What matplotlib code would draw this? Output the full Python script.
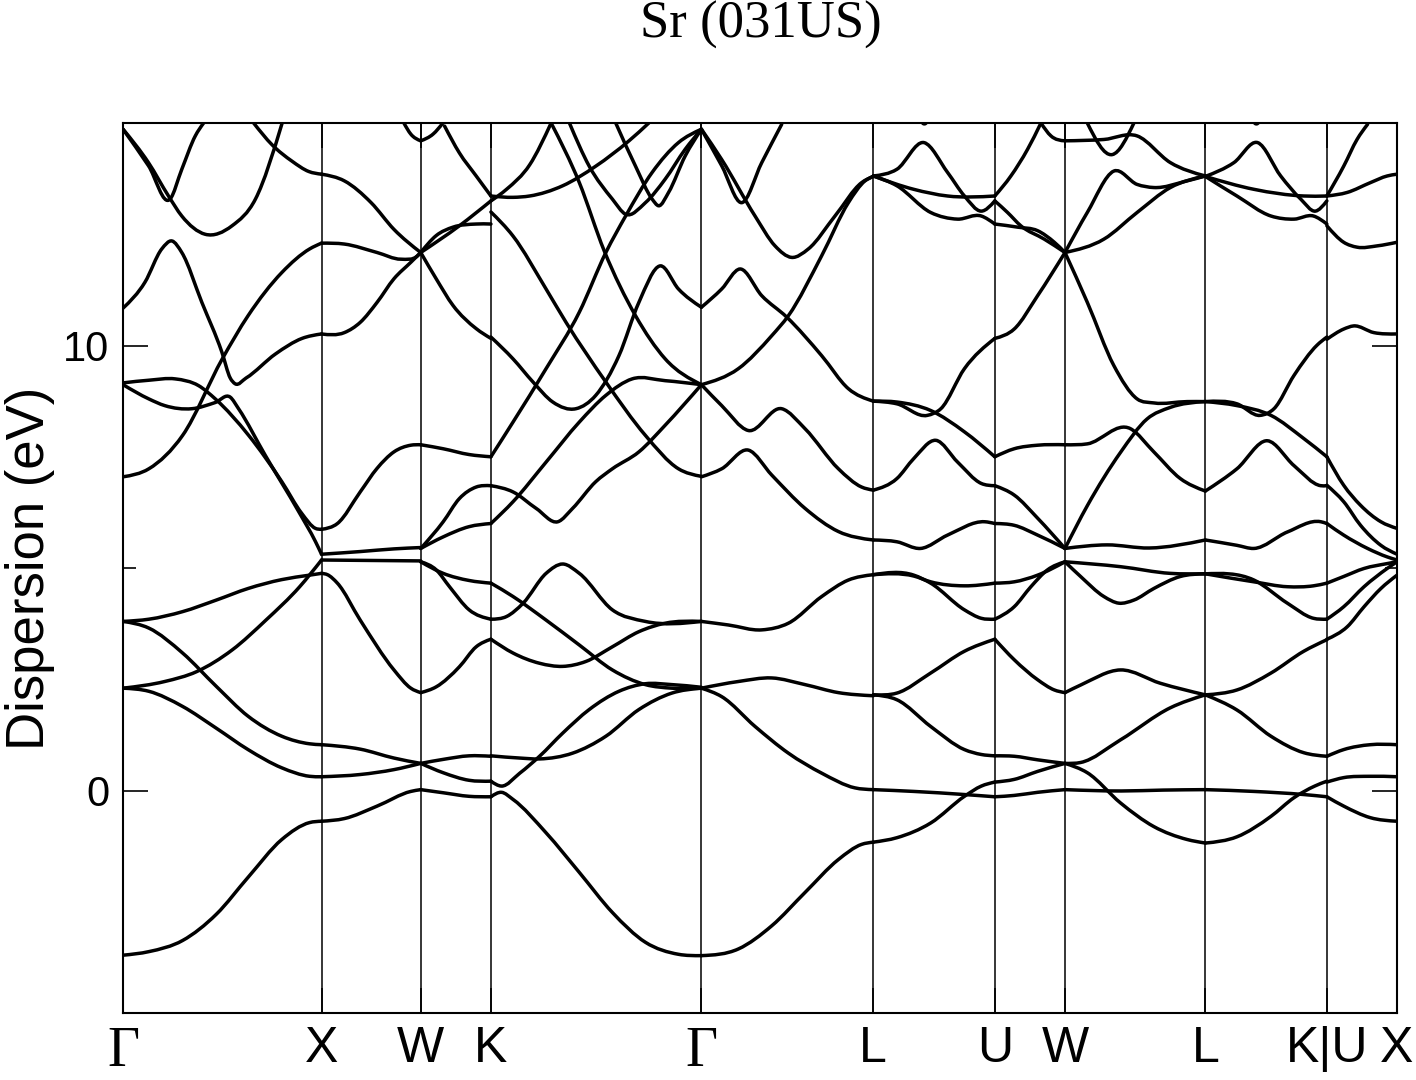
import numpy as np
import matplotlib
matplotlib.use('Agg')
import matplotlib.pyplot as plt
from matplotlib.path import Path
from matplotlib.patches import PathPatch

# high-symmetry points along the fcc path (Gamma-X = 1)
kpts = [0.0, 1.0, 1.5, 1.8536, 2.9142, 3.7803, 4.3926, 4.7462, 5.4533, 6.0657, 6.4192]
klabels = ['Γ', 'X', 'W', 'K', 'Γ', 'L', 'U', 'W', 'L', 'K|U', 'X']

# bands, per segment: each curve is (fraction along segment, E in eV)
bands_GX = [
    [(0, -3.70), (0.13, -3.62), (0.30, -3.37), (0.47, -2.78), (0.63, -1.95), (0.80, -1.10), (0.94, -0.72), (1, -0.69)],
    [(0, 2.30), (0.21, 2.45), (0.37, 2.67), (0.55, 3.16), (0.72, 3.83), (0.89, 4.58), (1, 5.18)],
    [(0, 3.80), (0.13, 3.85), (0.30, 4.02), (0.47, 4.28), (0.63, 4.54), (0.80, 4.74), (0.94, 4.84), (1, 4.88)],
    [(0, 3.80), (0.13, 3.65), (0.30, 3.09), (0.47, 2.34), (0.63, 1.67), (0.80, 1.22), (0.94, 1.05), (1, 1.03)],
    [(0, 2.30), (0.13, 2.23), (0.30, 1.89), (0.47, 1.40), (0.63, 0.92), (0.80, 0.51), (0.94, 0.32), (1, 0.31)],
    [(0, 7.05), (0.13, 7.23), (0.30, 7.98), (0.50, 9.70), (0.63, 10.67), (0.80, 11.64), (0.94, 12.17), (1, 12.30)],
    [(0, 10.84), (0.11, 11.42), (0.195, 12.17), (0.246, 12.35), (0.296, 12.09), (0.397, 10.97), (0.498, 9.85),
     (0.54, 9.27), (0.565, 9.14), (0.62, 9.27), (0.768, 9.81), (0.902, 10.16), (1, 10.26)],
    [(0, 9.16), (0.13, 9.22), (0.263, 9.25), (0.38, 9.10), (0.465, 8.80), (0.633, 7.98), (0.80, 6.94),
     (0.90, 6.23), (0.97, 5.89), (1, 5.87)],
    [(0, 9.12), (0.13, 8.80), (0.21, 8.65), (0.347, 8.58), (0.465, 8.72), (0.54, 8.84), (0.582, 8.58),
     (0.717, 7.53), (0.886, 6.26), (0.97, 5.59), (1, 5.31)],
    [(0, 14.86), (0.128, 14.04), (0.237, 13.29), (0.296, 13.96), (0.364, 14.71), (0.406, 15.0)],
    [(0, 14.86), (0.128, 14.11), (0.229, 13.36), (0.296, 12.91), (0.414, 12.50), (0.549, 12.69),
     (0.667, 13.29), (0.801, 14.99)],
    [(0.658, 15.0), (0.751, 14.51), (0.852, 14.14), (0.936, 13.91), (1, 13.85)],
]

bands_XW = [
    [(0, -0.69), (0.23, -0.63), (0.56, -0.35), (0.9, -0.02), (1, 0.02)],
    [(0, 0.31), (0.39, 0.36), (0.73, 0.47), (1, 0.61)],
    [(0, 1.03), (0.39, 0.93), (0.73, 0.73), (1, 0.61)],
    [(0, 4.88), (0.06, 4.85), (0.16, 4.66), (0.39, 3.83), (0.73, 2.71), (0.9, 2.30), (1, 2.20)],
    [(0, 5.18), (0.5, 5.17), (1, 5.16)],
    [(0, 5.31), (0.39, 5.37), (0.73, 5.43), (1, 5.46)],
    [(0, 5.87), (0.16, 6.00), (0.39, 6.71), (0.56, 7.24), (0.73, 7.61), (0.9, 7.76), (1, 7.77)],
    [(0, 10.26), (0.23, 10.29), (0.39, 10.52), (0.56, 10.97), (0.73, 11.50), (0.9, 11.87), (1, 12.09)],
    [(0, 12.30), (0.23, 12.28), (0.56, 12.09), (0.8, 11.94), (0.97, 12.02), (1, 12.09)],
    [(0, 13.85), (0.23, 13.70), (0.5, 13.21), (0.73, 12.61), (1, 12.09)],
    [(0.83, 15.0), (0.9, 14.75), (1, 14.60)],
]

bands_WK = [
    [(0, 0.02), (0.32, -0.05), (0.69, -0.13), (1, -0.14)],
    [(0, 0.61), (0.32, 0.40), (0.69, 0.23), (1, 0.21)],
    [(0, 0.61), (0.32, 0.70), (0.69, 0.78), (1, 0.77)],
    [(0, 2.20), (0.22, 2.33), (0.55, 2.78), (0.79, 3.23), (1, 3.40)],
    [(0, 5.14), (0.22, 4.96), (0.41, 4.58), (0.69, 4.06), (1, 3.85)],
    [(0, 5.14), (0.32, 4.88), (0.69, 4.72), (1, 4.66)],
    [(0, 5.44), (0.32, 6.04), (0.55, 6.56), (0.79, 6.82), (1, 6.85)],
    [(0, 5.44), (0.32, 5.70), (0.69, 5.93), (1, 6.00)],
    [(0, 7.77), (0.32, 7.68), (0.69, 7.55), (1, 7.50)],
    [(0, 12.09), (0.22, 11.50), (0.46, 10.90), (0.79, 10.38), (1, 10.16)],
    [(0, 12.09), (0.22, 12.47), (0.46, 12.66), (0.79, 12.73), (1, 12.73)],
    [(0, 12.09), (0.55, 12.69), (1, 13.25)],
    [(0, 14.60), (0.175, 14.75), (0.316, 15.0)],
    [(0.34, 14.93), (0.55, 14.33), (0.79, 13.81), (1, 13.36)],
]

bands_KG = [
    [(0, -0.14), (0.05, -0.04), (0.105, -0.20), (0.262, -0.95), (0.42, -1.84), (0.577, -2.74),
     (0.734, -3.41), (0.891, -3.68), (1, -3.71)],
    [(0, 0.21), (0.05, 0.10), (0.137, 0.39), (0.231, 0.77), (0.341, 1.29), (0.467, 1.82), (0.608, 2.23),
     (0.734, 2.40), (0.86, 2.38), (1, 2.32)],
    [(0, 0.78), (0.137, 0.73), (0.231, 0.71), (0.388, 0.84), (0.546, 1.22), (0.703, 1.82), (0.86, 2.19), (1, 2.30)],
    [(0, 3.40), (0.105, 3.09), (0.231, 2.86), (0.341, 2.79), (0.451, 2.90), (0.577, 3.23), (0.703, 3.57),
     (0.828, 3.76), (1, 3.80)],
    [(0, 3.85), (0.074, 3.91), (0.153, 4.21), (0.262, 4.88), (0.341, 5.09), (0.42, 4.88), (0.577, 4.06),
     (0.734, 3.80), (1, 3.80)],
    [(0, 4.66), (0.105, 4.36), (0.262, 3.83), (0.42, 3.27), (0.577, 2.71), (0.734, 2.38), (0.86, 2.30), (1, 2.30)],
    [(0, 6.00), (0.105, 6.49), (0.262, 7.38), (0.42, 8.28), (0.546, 8.88), (0.671, 9.25), (0.828, 9.21), (1, 9.12)],
    [(0, 6.85), (0.105, 6.71), (0.215, 6.34), (0.318, 6.04), (0.388, 6.34), (0.498, 6.94), (0.577, 7.23),
     (0.703, 7.61), (0.828, 8.21), (1, 9.12)],
    [(0, 7.50), (0.105, 8.28), (0.262, 9.48), (0.42, 10.75), (0.546, 12.09), (0.64, 12.91), (0.766, 13.89),
     (0.891, 14.56), (1, 14.86)],
    [(0, 10.19), (0.105, 9.70), (0.2, 9.18), (0.294, 8.73), (0.404, 8.58), (0.498, 8.88), (0.608, 9.77),
     (0.703, 10.97), (0.805, 11.79), (0.891, 11.27), (1, 10.86)],
    [(0, 13.0), (0.105, 12.46), (0.262, 11.27), (0.357, 10.52), (0.546, 9.18), (0.734, 7.98), (0.891, 7.23), (1, 7.06)],
    [(0, 13.36), (0.105, 13.33), (0.184, 13.36), (0.341, 13.59), (0.498, 14.03), (0.656, 14.60), (0.75, 15.0)],
    [(0.286, 15.0), (0.42, 13.66), (0.538, 12.13), (0.687, 10.67), (0.828, 9.70), (1, 9.12)],
    [(0, 13.25), (0.074, 13.51), (0.184, 14.06), (0.286, 15.0)],
    [(0.373, 15.0), (0.467, 14.03), (0.577, 13.29), (0.64, 12.95), (0.734, 13.21), (0.828, 13.74),
     (0.923, 14.41), (1, 14.86)],
    [(0.593, 15.0), (0.687, 14.03), (0.766, 13.29), (0.797, 13.14), (0.844, 13.44), (0.923, 14.26), (1, 14.86)],
]

bands_GL = [
    [(0, -3.71), (0.215, -3.56), (0.409, -3.04), (0.603, -2.29), (0.797, -1.55), (0.932, -1.21), (1, -1.16)],
    [(0, 2.30), (0.118, 2.11), (0.312, 1.44), (0.506, 0.84), (0.70, 0.39), (0.893, 0.06), (1, 0.02)],
    [(0, 2.30), (0.215, 2.45), (0.409, 2.53), (0.603, 2.38), (0.797, 2.20), (1, 2.13)],
    [(0, 3.80), (0.157, 3.72), (0.351, 3.61), (0.506, 3.76), (0.70, 4.36), (0.855, 4.73), (1, 4.85)],
    [(0, 7.05), (0.118, 7.23), (0.273, 7.65), (0.409, 7.09), (0.603, 6.34), (0.797, 5.82), (1, 5.63)],
    [(0, 9.12), (0.118, 8.65), (0.273, 8.09), (0.467, 8.58), (0.603, 8.13), (0.797, 7.23), (0.932, 6.82), (1, 6.75)],
    [(0, 9.12), (0.215, 9.48), (0.409, 10.22), (0.506, 10.67), (0.70, 12.02), (0.855, 13.21), (0.952, 13.70), (1, 13.80)],
    [(0, 10.86), (0.118, 11.27), (0.225, 11.72), (0.351, 11.12), (0.496, 10.64), (0.70, 9.77), (0.855, 9.03), (1, 8.75)],
    [(0, 14.86), (0.118, 14.18), (0.312, 12.91), (0.428, 12.24), (0.525, 11.98), (0.622, 12.17), (0.777, 12.91),
     (0.932, 13.66), (1, 13.80)],
    [(0, 14.86), (0.118, 14.04), (0.234, 13.21), (0.351, 14.11), (0.467, 14.97)],
]

bands_LU = [
    [(0, -1.16), (0.194, -1.06), (0.472, -0.73), (0.75, -0.13), (0.889, 0.10), (1, 0.19)],
    [(0, 0.02), (0.333, -0.02), (0.75, -0.09), (1, -0.14)],
    [(0, 2.15), (0.194, 2.04), (0.472, 1.44), (0.75, 0.92), (0.889, 0.81), (1, 0.78)],
    [(0, 2.15), (0.194, 2.19), (0.472, 2.64), (0.75, 3.13), (1, 3.40)],
    [(0, 4.85), (0.333, 4.84), (0.472, 4.66), (0.75, 4.06), (0.889, 3.87), (1, 3.85)],
    [(0, 4.85), (0.333, 4.82), (0.472, 4.69), (0.75, 4.60), (1, 4.66)],
    [(0, 5.63), (0.194, 5.59), (0.389, 5.44), (0.611, 5.74), (0.917, 6.04), (1, 6.00)],
    [(0, 6.75), (0.194, 7.01), (0.333, 7.46), (0.514, 7.87), (0.694, 7.38), (0.889, 6.90), (1, 6.85)],
    [(0, 8.75), (0.194, 8.73), (0.472, 8.54), (0.75, 8.06), (1, 7.50)],
    [(0, 8.75), (0.194, 8.69), (0.444, 8.43), (0.556, 8.58), (0.75, 9.48), (1, 10.16)],
    [(0, 13.81), (0.194, 13.96), (0.417, 14.56), (0.611, 13.89), (0.75, 13.36), (0.889, 13.02), (1, 13.25)],
    [(0, 13.81), (0.333, 13.51), (0.611, 13.36), (1, 13.36)],
    [(0, 13.81), (0.194, 13.59), (0.472, 12.99), (0.694, 12.84), (0.889, 12.91), (1, 12.73)],
    [(0.36, 15.2), (0.42, 14.98), (0.48, 15.2)],
]

bands_UW = [
    [(0, 0.19), (0.276, 0.25), (0.61, 0.43), (1, 0.61)],
    [(0, -0.14), (0.276, -0.11), (0.61, -0.04), (1, 0.02)],
    [(0, 0.78), (0.276, 0.77), (0.61, 0.69), (1, 0.61)],
    [(0, 3.40), (0.276, 2.94), (0.61, 2.49), (0.848, 2.26), (1, 2.20)],
    [(0, 3.85), (0.276, 4.13), (0.514, 4.58), (0.752, 4.96), (1, 5.14)],
    [(0, 4.66), (0.276, 4.69), (0.61, 4.84), (1, 5.14)],
    [(0, 6.00), (0.276, 5.96), (0.61, 5.74), (1, 5.44)],
    [(0, 6.85), (0.276, 6.64), (0.61, 6.12), (1, 5.44)],
    [(0, 7.50), (0.276, 7.68), (0.61, 7.76), (1, 7.77)],
    [(0, 10.16), (0.276, 10.37), (0.61, 11.12), (1, 12.09)],
    [(0, 12.73), (0.324, 12.66), (0.61, 12.58), (0.848, 12.32), (1, 12.09)],
    [(0, 13.25), (0.181, 12.99), (0.371, 12.69), (0.705, 12.39), (1, 12.09)],
    [(0, 13.36), (0.229, 13.81), (0.467, 14.41), (0.657, 15.0)],
    [(0.657, 15.0), (0.8, 14.71), (1, 14.60)],
]

bands_WL = [
    [(0, 0.02), (0.4, -0.01), (0.7, 0.01), (1, 0.02)],
    [(0, 0.61), (0.159, 0.40), (0.396, -0.28), (0.633, -0.81), (0.87, -1.10), (1, -1.18)],
    [(0, 0.61), (0.111, 0.63), (0.396, 1.14), (0.751, 1.86), (1, 2.15)],
    [(0, 2.20), (0.111, 2.37), (0.396, 2.71), (0.68, 2.41), (1, 2.15)],
    [(0, 5.14), (0.111, 4.81), (0.277, 4.36), (0.384, 4.21), (0.491, 4.28), (0.633, 4.54), (0.822, 4.81), (1, 4.87)],
    [(0, 5.14), (0.396, 5.03), (0.751, 4.88), (1, 4.87)],
    [(0, 5.44), (0.159, 6.40), (0.396, 7.60), (0.585, 8.35), (0.751, 8.61), (1, 8.74)],
    [(0, 5.44), (0.3, 5.52), (0.6, 5.45), (1, 5.63)],
    [(0, 7.77), (0.159, 7.79), (0.467, 8.13), (0.633, 7.61), (0.822, 7.01), (1, 6.73)],
    [(0, 12.09), (0.159, 10.97), (0.348, 9.55), (0.514, 8.80), (0.633, 8.71), (0.87, 8.74), (1, 8.74)],
    [(0, 12.09), (0.277, 12.39), (0.514, 12.99), (0.751, 13.55), (1, 13.81)],
    [(0, 12.09), (0.159, 12.99), (0.348, 13.92), (0.514, 13.62), (0.633, 13.55), (0.87, 13.70), (1, 13.81)],
    [(0, 14.60), (0.277, 14.63), (0.514, 14.71), (0.751, 14.11), (1, 13.81)],
    [(0.159, 15.0), (0.336, 14.29), (0.491, 15.0)],
]

bands_LK = [
    [(0, -1.18), (0.26, -1.04), (0.54, -0.58), (0.73, -0.16), (0.90, 0.10), (1, 0.21)],
    [(0, 0.02), (0.40, -0.02), (0.81, -0.09), (1, -0.14)],
    [(0, 2.15), (0.26, 1.81), (0.54, 1.22), (0.81, 0.85), (1, 0.77)],
    [(0, 2.15), (0.26, 2.26), (0.54, 2.64), (0.81, 3.13), (1, 3.39)],
    [(0, 4.87), (0.40, 4.73), (0.675, 4.21), (0.89, 3.87), (1, 3.85)],
    [(0, 4.87), (0.40, 4.69), (0.675, 4.58), (0.89, 4.60), (1, 4.66)],
    [(0, 5.63), (0.26, 5.51), (0.40, 5.44), (0.675, 5.81), (0.95, 6.04), (1, 6.00)],
    [(0, 6.73), (0.26, 7.23), (0.51, 7.86), (0.73, 7.30), (0.95, 6.85), (1, 6.85)],
    [(0, 8.74), (0.26, 8.65), (0.54, 8.43), (0.81, 7.91), (1, 7.50)],
    [(0, 8.74), (0.26, 8.69), (0.45, 8.43), (0.565, 8.58), (0.73, 9.33), (0.92, 10.01), (1, 10.19)],
    [(0, 13.80), (0.235, 14.11), (0.43, 14.56), (0.62, 13.81), (0.785, 13.29), (0.905, 13.02), (1, 13.25)],
    [(0, 13.80), (0.40, 13.51), (0.81, 13.36), (1, 13.36)],
    [(0, 13.80), (0.26, 13.36), (0.54, 12.91), (0.73, 12.84), (0.89, 12.91), (1, 12.73)],
    [(0.36, 15.2), (0.42, 14.98), (0.48, 15.2)],
]

bands_UX = [
    [(0, 13.36), (0.24, 14.03), (0.43, 14.63), (0.58, 14.97)],
    [(0, 13.36), (0.29, 13.44), (0.62, 13.66), (0.86, 13.81), (1, 13.85)],
    [(0, 12.69), (0.24, 12.32), (0.43, 12.21), (0.72, 12.24), (1, 12.32)],
    [(0, 10.14), (0.24, 10.37), (0.38, 10.44), (0.67, 10.29), (1, 10.26)],
    [(0, 7.50), (0.24, 6.86), (0.48, 6.41), (0.77, 6.04), (1, 5.89)],
    [(0, 6.86), (0.24, 6.49), (0.48, 5.96), (0.77, 5.51), (1, 5.31)],
    [(0, 6.00), (0.24, 5.74), (0.58, 5.44), (0.86, 5.25), (1, 5.18)],
    [(0, 4.66), (0.24, 4.81), (0.53, 4.99), (0.86, 5.10), (1, 5.14)],
    [(0, 3.85), (0.24, 4.13), (0.53, 4.58), (0.86, 4.99), (1, 5.14)],
    [(0, 3.40), (0.29, 3.68), (0.53, 4.13), (0.77, 4.54), (1, 4.84)],
    [(0, 0.77), (0.24, 0.92), (0.62, 1.03), (1, 1.03)],
    [(0, 0.19), (0.24, 0.29), (0.62, 0.32), (1, 0.31)],
    [(0, -0.14), (0.24, -0.35), (0.62, -0.61), (1, -0.69)],
]

segments = [bands_GX, bands_XW, bands_WK, bands_KG, bands_GL,
            bands_LU, bands_UW, bands_WL, bands_LK, bands_UX]


def smooth_path(xs, ys):
    """Cubic Hermite curve through the read points, as Bezier pieces."""
    xs = np.asarray(xs, float)
    ys = np.asarray(ys, float)
    h = np.diff(xs)
    sec = np.diff(ys) / h
    m = np.empty(len(xs))
    if len(xs) == 2:
        m[:] = sec[0]
    else:
        m[1:-1] = (h[1:] * sec[:-1] + h[:-1] * sec[1:]) / (h[:-1] + h[1:])
        m[0] = (3 * sec[0] - m[1]) / 2
        m[-1] = (3 * sec[-1] - m[-2]) / 2
    verts = [(xs[0], ys[0])]
    codes = [Path.MOVETO]
    for i in range(len(xs) - 1):
        d = h[i] / 3
        verts += [(xs[i] + d, ys[i] + m[i] * d), (xs[i + 1] - d, ys[i + 1] - m[i + 1] * d), (xs[i + 1], ys[i + 1])]
        codes += [Path.CURVE4] * 3
    return Path(verts, codes)


fig = plt.figure(figsize=(14.16, 10.8), dpi=100)
ax = fig.add_axes([0.0869, 0.0620, 0.8997, 0.8241])

for i, seg in enumerate(segments):
    k0, k1 = kpts[i], kpts[i + 1]
    for curve in seg:
        t = np.array([p[0] for p in curve])
        e = np.array([p[1] for p in curve])
        path = smooth_path(k0 + t * (k1 - k0), e)
        ax.add_patch(PathPatch(path, fill=False, edgecolor='black', lw=2.5,
                               capstyle='round', joinstyle='round'))

for k in kpts[1:-1]:
    ax.axvline(k, color='black', lw=1.1)

ax.set_xlim(kpts[0], kpts[-1])
ax.set_ylim(-5, 15)
for s in ax.spines.values():
    s.set_linewidth(1.5)

ax.set_yticks([0, 10])
ax.set_yticks([5], minor=True)
ax.set_yticklabels(['0', '10'], fontsize=30, family='Liberation Sans')
ax.tick_params(axis='y', which='major', direction='in', length=18, width=1.2, right=True, pad=10)
ax.tick_params(axis='y', which='minor', direction='in', length=9, width=1.2, right=True)
ax.set_xticks(kpts)
ax.set_xticklabels(klabels)
ax.tick_params(axis='x', direction='in', length=18, width=1.2, pad=9, top=True)
for lab in ax.get_xticklabels():
    if lab.get_text() == 'Γ':
        lab.set_family('Liberation Serif')
        lab.set_fontsize(40)
    else:
        lab.set_family('Liberation Sans')
        lab.set_fontsize(36)

ax.set_ylabel('Dispersion (eV)', fontsize=38, family='Liberation Sans', labelpad=6)
fig.text(0.537, 1 - 25 / 1080, 'Sr (031US)', ha='center', va='center',
         fontsize=38, family='Liberation Serif')

fig.savefig('out.png', dpi=100)
